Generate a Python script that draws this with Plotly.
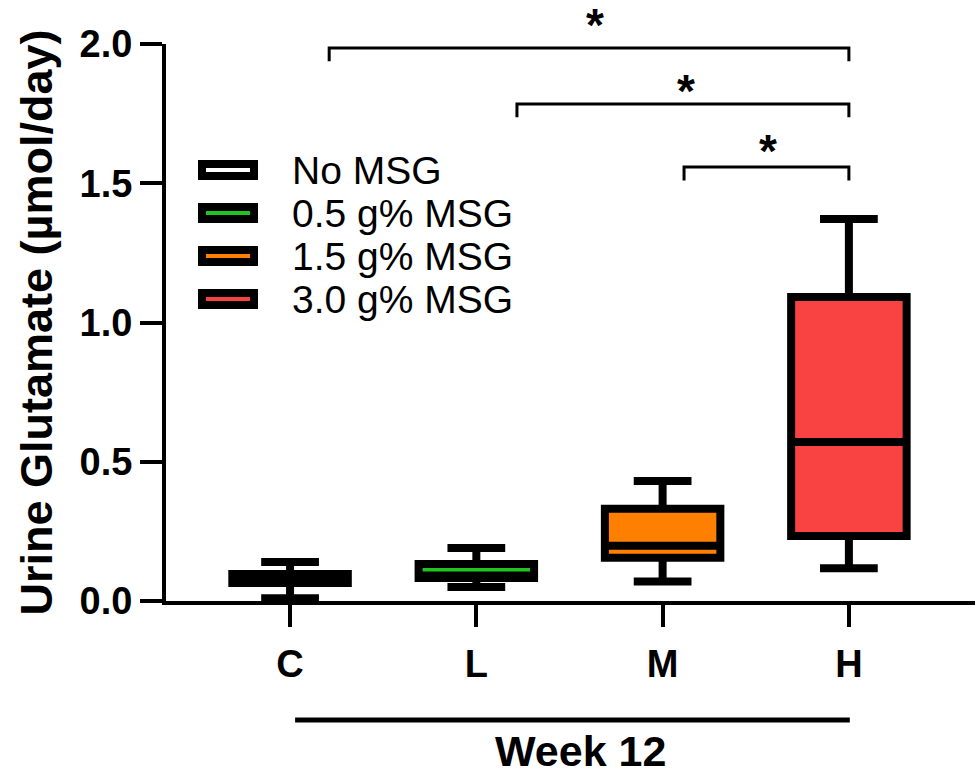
import plotly.graph_objects as go

# ---- data ----
categories = ["C", "L", "M", "H"]
group_names = ["No MSG", "0.5 g% MSG", "1.5 g% MSG", "3.0 g% MSG"]
fill_colors = ["#FFFFFF", "#22C422", "#FF8000", "#F94343"]
lower_fence = [0.010, 0.050, 0.070, 0.118]
q1_vals = [0.065, 0.083, 0.155, 0.233]
median_vals = [0.080, 0.092, 0.198, 0.571]
q3_vals = [0.097, 0.133, 0.331, 1.092]
upper_fence = [0.140, 0.190, 0.431, 1.372]

y_ticks = [0.0, 0.5, 1.0, 1.5, 2.0]
y_tick_text = ["0.0", "0.5", "1.0", "1.5", "2.0"]

# significance comparisons (bracket start, end, bracket height, label)
brackets = [
    {"x0": 0.21, "x1": 3.0, "y": 1.986, "label": "*"},
    {"x0": 1.218, "x1": 3.0, "y": 1.785, "label": "*"},
    {"x0": 2.115, "x1": 3.0, "y": 1.558, "label": "*"},
]
week_label = "Week 12"

FONT = "Liberation Sans, Arial, Helvetica, sans-serif"

fig = go.Figure()
for i, cat in enumerate(categories):
    fig.add_trace(go.Box(
        x=[cat], q1=[q1_vals[i]], median=[median_vals[i]], q3=[q3_vals[i]],
        lowerfence=[lower_fence[i]], upperfence=[upper_fence[i]],
        name=group_names[i], fillcolor=fill_colors[i],
        line=dict(color="black", width=8), whiskerwidth=0.5, width=0.62,
        boxpoints=False, showlegend=False, hoverinfo="skip",
    ))

# plot geometry (pixels) for paper-coordinate helpers
L, R, T, B = 166, 975, 44, 601
W, H = R - L, B - T
def px(x):
    return (x - L) / W
def py(y):
    return (B - y) / H

shapes = []
annotations = []
# significance brackets; star glyph sits ~31px above its text-box bottom
star_centers_px = [22, 88, 148]
star_x_px = [595, 686, 768]
for b, sc, sx in zip(brackets, star_centers_px, star_x_px):
    drop = 0.048
    shapes.append(dict(type="path", xref="x", yref="y",
                       path=f"M {b['x0']},{b['y']-drop} L {b['x0']},{b['y']} L {b['x1']},{b['y']} L {b['x1']},{b['y']-drop}",
                       line=dict(color="black", width=3)))
    annotations.append(dict(x=px(sx), y=py(sc + 31), xref="paper", yref="paper",
                            text=b["label"], showarrow=False, yanchor="bottom", xanchor="center",
                            font=dict(family=FONT, size=46, color="black", weight="bold")))

# Week underline + label
shapes.append(dict(type="line", xref="x", yref="paper", x0=0.027, x1=3.005,
                   y0=py(720), y1=py(720), line=dict(color="black", width=5)))
annotations.append(dict(x=1.557, y=py(751), xref="x", yref="paper", text=week_label,
                        showarrow=False, yanchor="middle",
                        font=dict(family=FONT, size=43, color="black", weight="bold")))

# custom legend
row_y = [170, 213, 256, 299]
for i, name in enumerate(group_names):
    cy = row_y[i]
    shapes.append(dict(type="rect", xref="paper", yref="paper",
                       x0=px(202), x1=px(254), y0=py(cy + 6), y1=py(cy - 6),
                       line=dict(color="black", width=8), fillcolor=fill_colors[i]))
    annotations.append(dict(x=px(290), y=py(cy), xref="paper", yref="paper", text=name,
                            showarrow=False, xanchor="left", yanchor="middle",
                            font=dict(family=FONT, size=39, color="black")))

# y-axis title
annotations.append(dict(x=px(36), y=0.5, xref="paper", yref="paper",
                        text="Urine Glutamate (µmol/day)", textangle=-90, showarrow=False,
                        xanchor="center", yanchor="middle",
                        font=dict(family=FONT, size=45, color="black", weight="bold")))

fig.update_layout(
    width=979, height=780,
    margin=dict(l=L, r=979 - R, t=T, b=780 - B, autoexpand=False),
    paper_bgcolor="white", plot_bgcolor="white",
    boxmode="overlay",
    shapes=shapes, annotations=annotations,
    xaxis=dict(type="category", categoryorder="array", categoryarray=categories,
               range=[-0.666, 3.677], showgrid=False, zeroline=False,
               showline=True, linecolor="black", linewidth=4,
               ticks="outside", ticklen=22, tickwidth=4, tickcolor="black",
               ticklabelstandoff=4,
               tickfont=dict(family=FONT, size=38, color="black", weight="bold")),
    yaxis=dict(range=[0, 2.0], tickvals=y_ticks, ticktext=y_tick_text,
               showgrid=False, zeroline=False,
               showline=True, linecolor="black", linewidth=4,
               ticks="outside", ticklen=22, tickwidth=4, tickcolor="black",
               tickfont=dict(family=FONT, size=38, color="black", weight="bold")),
)

fig.write_html("out.html", config={"displayModeBar": False},
               post_script="document.body.style.margin='0px';document.body.style.padding='0px';")
